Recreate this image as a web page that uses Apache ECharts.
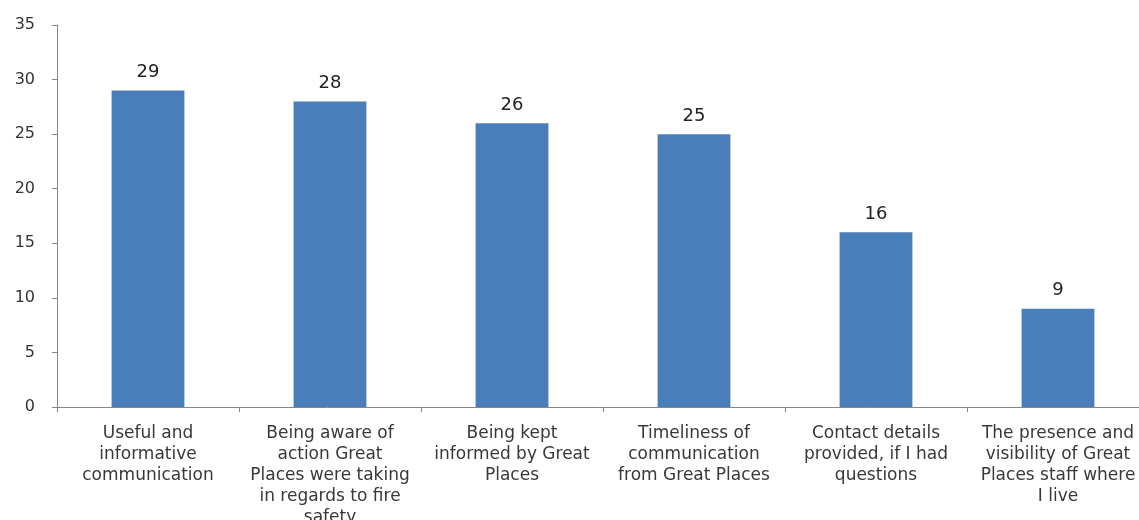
<!DOCTYPE html>
<html>
<head>
<meta charset="utf-8">
<script src="https://cdn.jsdelivr.net/npm/echarts@6/dist/echarts.min.js"></script>
<style>
html, body { margin: 0; padding: 0; background: #fff; }
#chart { width: 1139px; height: 520px; }
</style>
</head>
<body>
<div id="chart"></div>
<script>
// categories as they wrap under the axis
var categories = [
    'Useful and\ninformative\ncommunication',
    'Being aware of\naction Great\nPlaces were taking\nin regards to fire\nsafety',
    'Being kept\ninformed by Great\nPlaces',
    'Timeliness of\ncommunication\nfrom Great Places',
    'Contact details\nprovided, if I had\nquestions',
    'The presence and\nvisibility of Great\nPlaces staff where\nI live'
];
var values = [29, 28, 26, 25, 16, 9];
var yTicks = { min: 0, max: 35, step: 5 };

var axisColor = '#868686';

var option = {
    animation: false,
    grid: {
        left: 57,
        right: -10,
        top: 25,
        bottom: 113,
        outerBoundsMode: 'none'
    },
    xAxis: {
        type: 'category',
        data: categories,
        axisLine: { lineStyle: { color: axisColor, width: 1 } },
        axisTick: { show: true, length: 5, lineStyle: { color: axisColor } },
        axisLabel: {
            interval: 0,
            margin: 16,
            color: '#383838',
            fontFamily: 'DejaVu Sans',
            fontSize: 17,
            lineHeight: 21
        }
    },
    yAxis: {
        type: 'value',
        min: yTicks.min,
        max: yTicks.max,
        interval: yTicks.step,
        splitLine: { show: false },
        axisLine: { show: true, lineStyle: { color: axisColor, width: 1 } },
        axisTick: { show: true, length: 5, lineStyle: { color: axisColor } },
        axisLabel: {
            margin: 22,
            color: '#333',
            fontFamily: 'DejaVu Sans',
            fontSize: 16
        }
    },
    series: [{
        type: 'bar',
        data: values,
        barWidth: '40%',
        itemStyle: { color: '#4a7ebb' },
        label: {
            show: true,
            position: 'top',
            distance: 9,
            color: '#222',
            fontFamily: 'DejaVu Sans',
            fontSize: 18
        }
    }]
};

var chart = echarts.init(document.getElementById('chart'));
chart.setOption(option);
</script>
</body>
</html>
